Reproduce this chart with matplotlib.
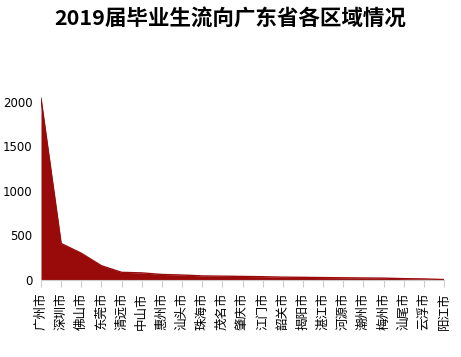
import matplotlib.pyplot as plt

plt.rcParams['font.family'] = ['Noto Sans CJK SC', 'DejaVu Sans']

cities = ['广州市', '深圳市', '佛山市', '东莞市', '清远市', '中山市', '惠州市',
          '汕头市', '珠海市', '茂名市', '肇庆市', '江门市', '韶关市', '揭阳市',
          '湛江市', '河源市', '潮州市', '梅州市', '汕尾市', '云浮市', '阳江市']
counts = [2040, 410, 300, 160, 86, 80, 62, 56, 46, 43, 40, 37, 32, 30,
          27, 25, 23, 21, 15, 12, 5]

fig = plt.figure(figsize=(4.61, 3.57), dpi=100)
ax = fig.add_axes([41 / 461, 77 / 357, (444 - 41) / 461, 200 / 357])

x = range(len(cities))
ax.fill_between(x, counts, 0, color='#990b0b', linewidth=0)
ax.plot(x, counts, color='#990b0b', linewidth=1)

ax.set_xlim(0, len(cities) - 1)
ax.set_ylim(0, 2245)
ax.set_yticks([0, 500, 1000, 1500, 2000])
ax.set_xticks(list(x))
ax.set_xticklabels(cities, rotation=90, fontsize=9, va='top', ha='center')
for lbl in ax.get_yticklabels():
    lbl.set_family('DejaVu Sans')
ax.tick_params(axis='y', length=0, labelsize=8.5, pad=6)
ax.tick_params(axis='x', length=5, color='#cccccc', pad=4)

for s in ['top', 'right', 'left']:
    ax.spines[s].set_visible(False)
ax.spines['bottom'].set_color('#cccccc')

fig.text(0.5, 1 - 18 / 357, '2019届毕业生流向广东省各区域情况', ha='center', va='center',
         fontsize=15.5, fontweight='bold')

plt.savefig('out.png', dpi=100)
